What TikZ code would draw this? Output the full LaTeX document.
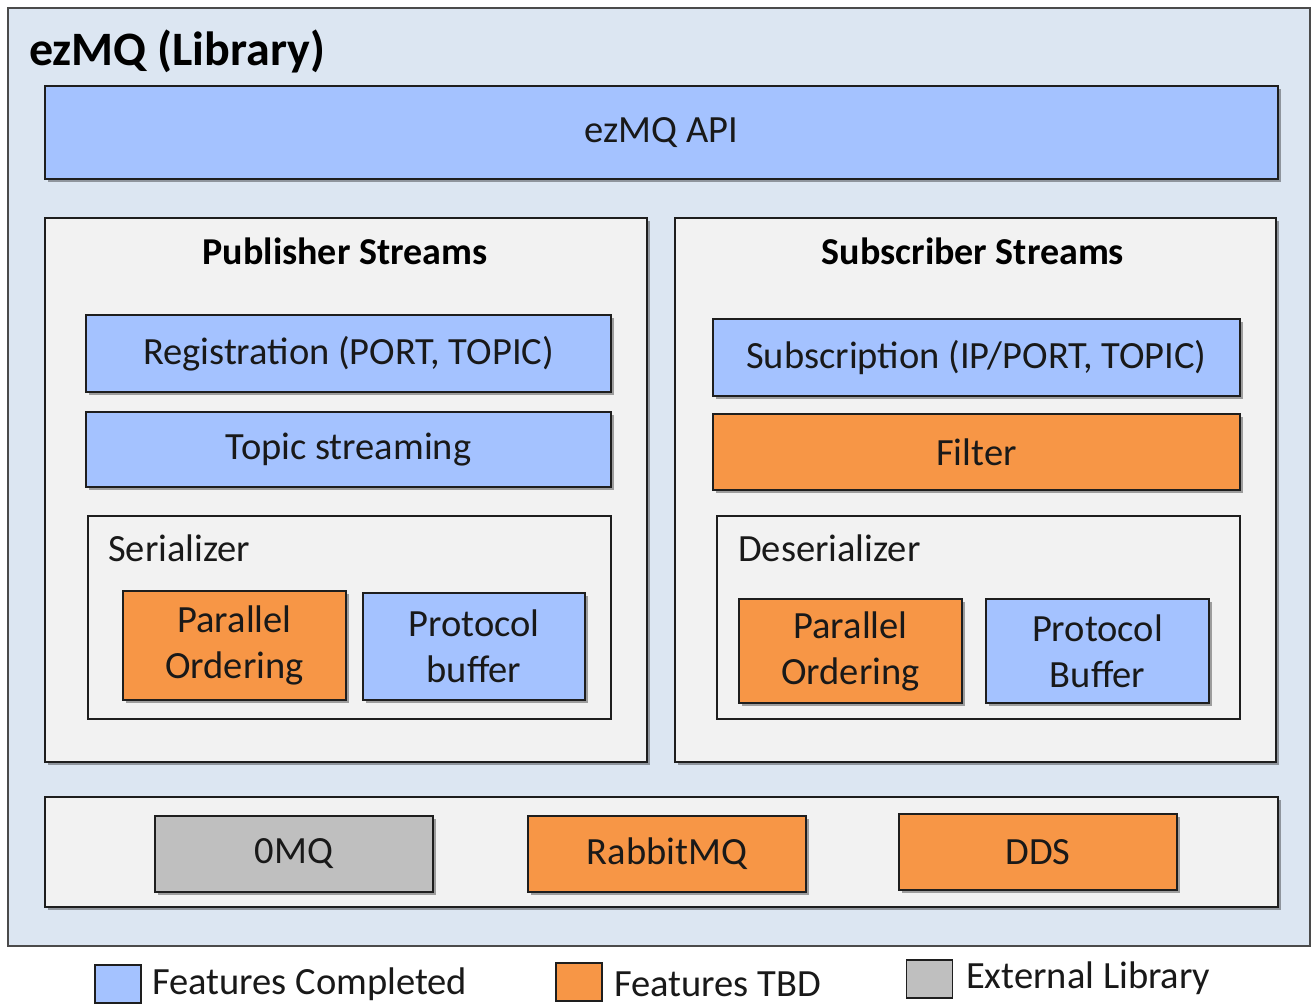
\documentclass[tikz,border=0pt]{standalone}
\usepackage{fontspec}
\setmainfont{Carlito}
\usetikzlibrary{shadows}
\definecolor{bgblue}{RGB}{220,230,242}
\definecolor{panel}{RGB}{242,242,242}
\definecolor{done}{RGB}{164,194,255}
\definecolor{tbd}{RGB}{247,150,70}
\definecolor{ext}{RGB}{191,191,191}
\definecolor{edge}{RGB}{30,30,30}
\begin{document}
\begin{tikzpicture}[x=1pt,y=-1pt,
  shad/.style={drop shadow={shadow xshift=3pt,shadow yshift=-3pt,opacity=0.35,fill=black}},
  box/.style={draw=edge,line width=1.5pt,inner sep=0pt,shad,font=\fontsize{38.5}{46}\selectfont,align=center,text=black!90},
  bluebox/.style={box,fill=done},
  orangebox/.style={box,fill=tbd},
  graybox/.style={box,fill=ext},
  panelbox/.style={draw=edge,line width=1.5pt,fill=panel,inner sep=0pt,shad},
  subpanel/.style={draw=edge,line width=1.5pt,fill=panel,inner sep=0pt},
  heading/.style={font=\fontsize{38}{42}\bfseries\selectfont,inner sep=0pt},
  plain/.style={font=\fontsize{38.5}{44}\selectfont,inner sep=0pt,text=black!90},
  legsq/.style={draw=edge,line width=1.5pt,inner sep=0pt,minimum width=46,minimum height=38},
  legtxt/.style={font=\fontsize{38.5}{44}\selectfont,inner sep=0pt,anchor=west,text=black!90}
]
\useasboundingbox (0,0) rectangle (1312,1005);
\fill[white] (0,0) rectangle (1312,1005);
% outer frame
\node[draw=edge!80,line width=1.5pt,fill=bgblue,inner sep=0pt,minimum width=1302,minimum height=938] (frame) at (659,477) {};
\node[font=\fontsize{48}{52}\bfseries\selectfont,anchor=west,inner sep=0pt] (title) at (29,51) {ezMQ (Library)};
% API
\node[bluebox,minimum width=1233,minimum height=93] (api) at (661.5,132.5) {ezMQ API};
% publisher
\node[panelbox,minimum width=602,minimum height=544] (pub) at (346,490) {};
\node[heading] (pubt) at (345,251) {Publisher Streams};
\node[bluebox,minimum width=525,minimum height=77] (reg) at (348.5,353.5) {Registration (PORT, TOPIC)};
\node[bluebox,minimum width=525,minimum height=75] (topic) at (348.5,449.5) {Topic streaming};
\node[subpanel,minimum width=523,minimum height=203] (ser) at (349.5,617.5) {};
\node[plain,anchor=west] (sert) at (108,548) {Serializer};
\node[orangebox,minimum width=223,minimum height=109] (ppo) at (234.5,645.5) {Parallel\\Ordering};
\node[bluebox,minimum width=222,minimum height=107] (ppb) at (474,646.5) {Protocol\\buffer};
% subscriber
\node[panelbox,minimum width=601,minimum height=544] (sub) at (975.5,490) {};
\node[heading] (subt) at (973,251) {Subscriber Streams};
\node[bluebox,minimum width=527,minimum height=77] (subs) at (976.5,357.5) {Subscription (IP/PORT, TOPIC)};
\node[orangebox,minimum width=527,minimum height=76] (filt) at (976.5,452) {Filter};
\node[subpanel,minimum width=523,minimum height=203] (deser) at (978.5,617.5) {};
\node[plain,anchor=west] (desert) at (738,548) {Deserializer};
\node[orangebox,minimum width=223,minimum height=104] (spo) at (850.5,651) {Parallel\\Ordering};
\node[bluebox,minimum width=223,minimum height=104] (spb) at (1097.5,651) {Protocol\\Buffer};
% transports
\node[panelbox,minimum width=1233,minimum height=110] (trans) at (661.5,852) {};
\node[graybox,minimum width=278,minimum height=76] (zmq) at (294,854) {0MQ};
\node[orangebox,minimum width=278,minimum height=76] (rmq) at (667,854) {RabbitMQ};
\node[orangebox,minimum width=278,minimum height=76] (dds) at (1038,852) {DDS};
% legend
\node[legsq,fill=done] (l1) at (118,984) {};
\node[legtxt] (l1t) at (152,984) {Features Completed};
\node[legsq,fill=tbd] (l2) at (579,982) {};
\node[legtxt] (l2t) at (614,984) {Features TBD};
\node[legsq,fill=ext] (l3) at (929.5,979) {};
\node[legtxt] (l3t) at (966,978) {External Library};
\end{tikzpicture}
\end{document}
